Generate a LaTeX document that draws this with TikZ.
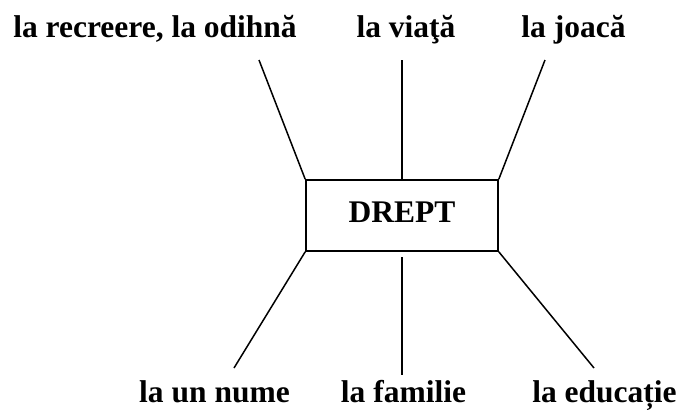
\documentclass[tikz,border=0pt]{standalone}
\usepackage{fontspec}
\setmainfont{Liberation Serif}
\begin{document}
\begin{tikzpicture}[x=1pt,y=-1pt,
  every node/.style={font=\bfseries\fontsize{31.5}{36}\selectfont},
  lbl/.style={inner sep=0pt,anchor=base},
  box/.style={draw,line width=1.6pt,minimum width=192pt,minimum height=71pt,inner sep=0pt,text height=21pt,text depth=8pt},
  conn/.style={line width=1.5pt}]
\useasboundingbox (0,0) rectangle (678,410);
\node[box] (d) at (402,215.5) {DREPT};
\node[lbl] (t1) at (155,37) {la recreere, la odihnă};
\node[lbl] (t2) at (406,37) {la viaţă};
\node[lbl] (t3) at (573.5,37) {la joacă};
\node[lbl] (b1) at (214.5,402) {la un nume};
\node[lbl] (b2) at (403.5,402) {la familie};
\node[lbl] (b3) at (604.5,402) {la educație};
\coordinate (e1) at (259,60);
\coordinate (e2) at (402,60);
\coordinate (e3) at (545,60);
\coordinate (f1) at (234,368);
\coordinate (g2) at (402,257);
\coordinate (f2) at (402,375);
\coordinate (f3) at (594,368);
\draw[conn] (d.north west) -- (e1);
\draw[conn] (d.north) -- (e2);
\draw[conn] (d.north east) -- (e3);
\draw[conn] (d.south west) -- (f1);
\draw[conn] (g2) -- (f2);
\draw[conn] (d.south east) -- (f3);
\end{tikzpicture}
\end{document}
